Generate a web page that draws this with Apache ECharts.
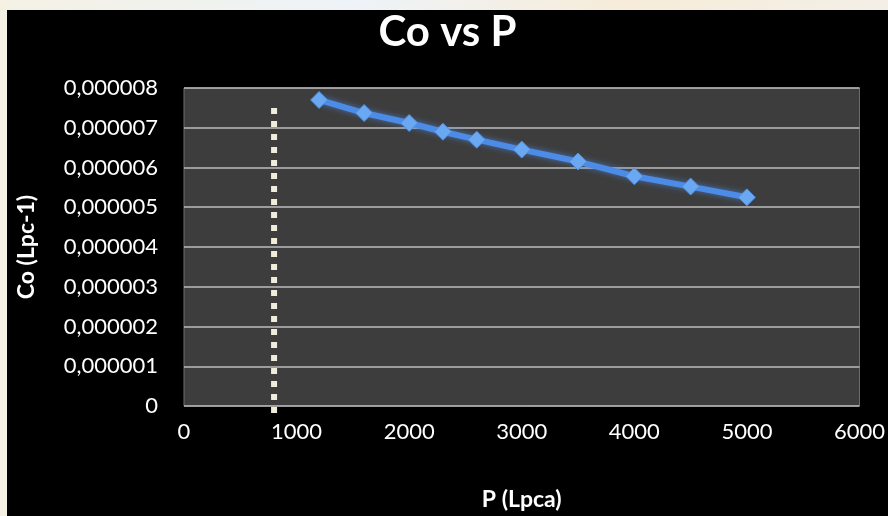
<!DOCTYPE html>
<html>
<head>
<meta charset="utf-8">
<script src="https://cdn.jsdelivr.net/npm/echarts@6/dist/echarts.min.js"></script>
<style>
  html, body { margin: 0; padding: 0; width: 888px; height: 516px; overflow: hidden;
    background: linear-gradient(90deg, #f4f1e4 0%, #eef3f8 40%, #f7ecd9 70%, #f3efe6 100%); }
  #chart { position: absolute; left: 7px; top: 10px; width: 881px; height: 506px; }
</style>
</head>
<body>
<div id="chart"></div>
<script>
// Data
const pValues = [1200, 1600, 2000, 2300, 2600, 3000, 3500, 4000, 4500, 5000];
const coValues = [0.0000077, 0.00000737, 0.00000712, 0.0000069, 0.0000067, 0.00000645, 0.00000615, 0.00000578, 0.00000552, 0.00000525];
const refLineX = [800, 800];
const refLineY = [0.0000075, -0.0000002];
const xTicks = [0, 1000, 2000, 3000, 4000, 5000, 6000];
const yTicks = [0, 0.000001, 0.000002, 0.000003, 0.000004, 0.000005, 0.000006, 0.000007, 0.000008];
const titleText = 'Co vs P';
const xName = 'P (Lpca)';
const yName = 'Co (Lpc-1)';

const chart = echarts.init(document.getElementById('chart'), null, { renderer: 'canvas' });
const fontFam = 'Lato, "Open Sans", "DejaVu Sans", sans-serif';

chart.setOption({
  backgroundColor: '#000000',
  animation: false,
  title: {
    text: titleText,
    left: 'center',
    top: -4,
    textStyle: { color: '#ffffff', fontSize: 42, fontWeight: 'bold', fontFamily: fontFam }
  },
  grid: {
    left: 176, right: 24, top: 78, bottom: 107,
    show: true, backgroundColor: '#3d3d3d', borderColor: '#6e6e6e', borderWidth: 1
  },
  xAxis: {
    type: 'value',
    min: xTicks[0], max: xTicks[xTicks.length - 1], interval: 1000,
    name: xName, nameLocation: 'middle', nameGap: 82,
    nameTextStyle: { color: '#ffffff', fontSize: 23, fontWeight: 'bold', fontFamily: fontFam },
    axisLine: { show: false },
    axisTick: { show: false },
    splitLine: { show: false },
    axisLabel: {
      color: '#ffffff', fontSize: 22, margin: 15, fontFamily: fontFam,
      formatter: function (v) { return String(v); }
    }
  },
  yAxis: {
    type: 'value',
    min: yTicks[0], max: yTicks[yTicks.length - 1], interval: 0.000001,
    name: yName, nameLocation: 'middle', nameGap: 146, nameRotate: 90,
    nameTextStyle: { color: '#ffffff', fontSize: 23, fontWeight: 'bold', fontFamily: fontFam },
    axisLine: { show: false },
    axisTick: { show: false },
    splitLine: { show: true, lineStyle: { color: '#bdbdbd', width: 1.5 } },
    axisLabel: {
      color: '#ffffff', fontSize: 22, margin: 26, fontFamily: fontFam,
      formatter: function (v) {
        if (Math.abs(v) < 1e-12) return '0';
        return v.toFixed(6).replace('.', ',');
      }
    }
  },
  series: [
    {
      type: 'line',
      data: refLineX.map((x, i) => [x, refLineY[i]]),
      clip: false,
      symbol: 'none',
      silent: true,
      lineStyle: { color: '#f0ecdc', width: 6, type: [6, 7] },
      z: 3
    },
    {
      type: 'line',
      data: pValues.map((p, i) => [p, coValues[i]]),
      symbol: 'diamond',
      symbolSize: 17,
      lineStyle: { color: '#4d8ce6', width: 6, shadowColor: 'rgba(80,150,255,0.6)', shadowBlur: 6 },
      itemStyle: { color: '#6aa8f2', borderColor: '#4f8de0', borderWidth: 1 },
      z: 5
    }
  ]
});
</script>
</body>
</html>
